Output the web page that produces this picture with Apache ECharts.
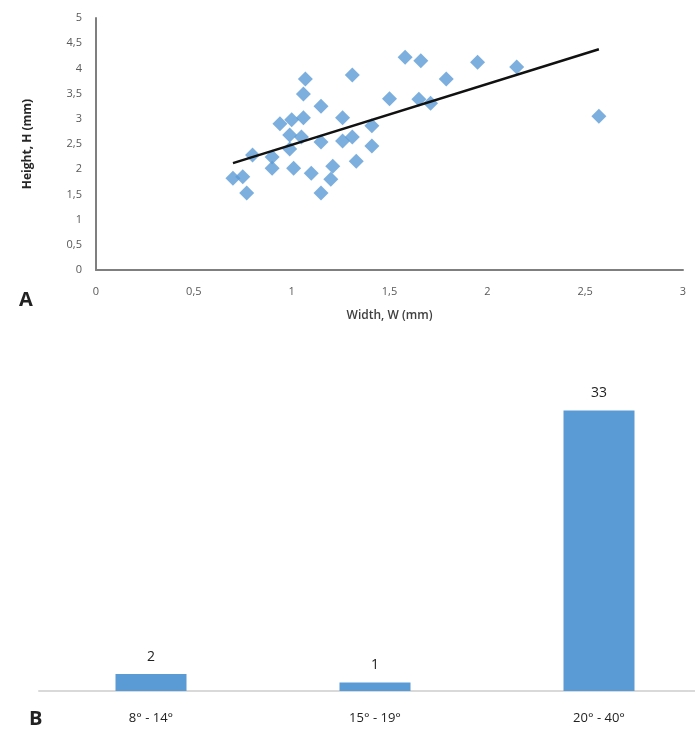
<!DOCTYPE html>
<html>
<head>
<meta charset="utf-8">
<script src="https://cdn.jsdelivr.net/npm/echarts@6/dist/echarts.min.js"></script>
<style>
	html, body { margin: 0; padding: 0; background: #fff; }
	#main { width: 695px; height: 736px; }
</style>
</head>
<body>
<div id="main"></div>
<script>
	// A: width / height of each sample (mm)
	var widths = [0.70, 0.75, 0.77, 0.80, 0.90, 0.90, 0.94, 0.99, 0.99, 1.00, 1.01, 1.06, 1.07, 1.06, 1.05,
		1.10, 1.15, 1.15, 1.15, 1.21, 1.20, 1.26, 1.26, 1.31, 1.31, 1.33, 1.41, 1.41, 1.50, 1.58,
		1.66, 1.65, 1.71, 1.79, 1.95, 2.15, 2.57];
	var heights = [1.82, 1.85, 1.53, 2.28, 2.24, 2.02, 2.90, 2.68, 2.40, 2.98, 2.02, 3.02, 3.79, 3.49, 2.64,
		1.92, 3.25, 2.54, 1.53, 2.06, 1.80, 3.02, 2.56, 3.87, 2.64, 2.16, 2.86, 2.46, 3.40, 4.22,
		4.15, 3.39, 3.31, 3.79, 4.12, 4.03, 3.05];
	// trend line end points
	var trendX = [0.70, 2.57];
	var trendY = [2.12, 4.38];

	// B: number of samples by angle range
	var angleRanges = ['8° - 14°', '15° - 19°', '20° - 40°'];
	var counts = [2, 1, 33];

	var blue = '#5B9BD5';
	var font = 'Open Sans';

	var points = widths.map(function (w, i) { return [w, heights[i]]; });
	var trend = trendX.map(function (x, i) { return [x, trendY[i]]; });

	function comma(v) { return String(v).replace('.', ','); }

	var chart = echarts.init(document.getElementById('main'));
	chart.setOption({
		animation: false,
		backgroundColor: '#ffffff',
		textStyle: { fontFamily: font },
		title: [
			{ text: 'A', left: 14, top: 285, textStyle: { fontSize: 20, fontWeight: 'bold', color: '#222', fontFamily: font } },
			{ text: 'B', left: 24, top: 704, textStyle: { fontSize: 20, fontWeight: 'bold', color: '#222', fontFamily: font } }
		],
		grid: [
			{ left: 96, top: 18, width: 587, height: 252, outerBoundsMode: 'none' },
			// the category band runs a little past the right edge, as in the original
			{ left: 39, top: 351, width: 672, height: 340, outerBoundsMode: 'none' }
		],
		xAxis: [{
			gridIndex: 0,
			type: 'value',
			min: 0, max: 3, interval: 0.5,
			name: 'Width, W (mm)',
			nameLocation: 'middle',
			nameGap: 40,
			nameTextStyle: { fontSize: 12, color: '#404040', fontWeight: 600 },
			axisLine: { lineStyle: { color: '#7f7f7f', width: 2 } },
			axisTick: { show: false },
			splitLine: { show: false },
			axisLabel: { color: '#595959', fontSize: 11, margin: 16, formatter: comma }
		}, {
			gridIndex: 1,
			type: 'category',
			data: angleRanges,
			axisLine: { lineStyle: { color: '#d9d9d9', width: 2 } },
			axisTick: { show: false },
			axisLabel: { color: '#222', fontSize: 13, margin: 21 }
		}],
		yAxis: [{
			gridIndex: 0,
			type: 'value',
			min: 0, max: 5, interval: 0.5,
			name: 'Height, H (mm)',
			nameLocation: 'middle',
			nameGap: 62,
			nameTextStyle: { fontSize: 12, color: '#262626', fontWeight: 'bold' },
			axisLine: { show: true, lineStyle: { color: '#7f7f7f', width: 2 } },
			axisTick: { show: false },
			splitLine: { show: false },
			axisLabel: { color: '#595959', fontSize: 11, margin: 14, formatter: comma }
		}, {
			gridIndex: 1,
			type: 'value',
			min: 0, max: 40,
			show: false
		}],
		series: [{
			type: 'scatter',
			xAxisIndex: 0, yAxisIndex: 0,
			symbol: 'diamond',
			symbolSize: 15,
			itemStyle: { color: blue },
			data: points,
			z: 2
		}, {
			type: 'line',
			xAxisIndex: 0, yAxisIndex: 0,
			data: trend,
			symbol: 'none',
			lineStyle: { color: '#111', width: 2.5 },
			z: 3
		}, {
			type: 'bar',
			xAxisIndex: 1, yAxisIndex: 1,
			data: counts,
			barWidth: 71,
			itemStyle: { color: blue },
			label: { show: true, position: 'top', distance: 10, color: '#222', fontSize: 14 }
		}]
	});
</script>
</body>
</html>
